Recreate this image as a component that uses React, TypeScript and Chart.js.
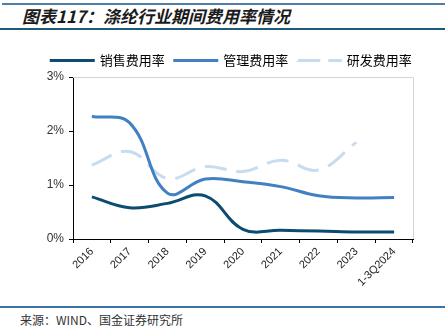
import React, { useEffect, useRef } from "react";
import { Chart, registerables } from "chart.js";

Chart.register(...registerables);

const categories = ["2016", "2017", "2018", "2019", "2020", "2021", "2022", "2023", "1-3Q2024"];
const salesRate = [0.78, 0.58, 0.66, 0.8, 0.18, 0.16, 0.15, 0.13, 0.13];
const mgmtRate = [2.27, 2.15, 0.85, 1.11, 1.06, 0.97, 0.8, 0.76, 0.77];
const rdRate = [1.37, 1.62, 1.12, 1.34, 1.25, 1.46, 1.28, 1.79, null];
const seriesNames = ["销售费用率", "管理费用率", "研发费用率"];
const yTicks = [0, 1, 2, 3];

const colors = ["#0c4c70", "#4181c2", "#c8dcf0"];
const dashes: number[][] = [[], [], [22, 10]];

const frame = {
  id: "frame",
  beforeDatasetsDraw(chart: any) {
    const { ctx, chartArea } = chart;
    ctx.save();
    ctx.strokeStyle = "#d4d4d4";
    ctx.lineWidth = 1;
    ctx.beginPath();
    ctx.moveTo(chartArea.left, chartArea.top + 0.5);
    ctx.lineTo(chartArea.right + 0.5, chartArea.top + 0.5);
    ctx.lineTo(chartArea.right + 0.5, chartArea.bottom);
    ctx.stroke();
    ctx.restore();
  },
};

export default function App() {
  const ref = useRef<HTMLCanvasElement>(null);
  useEffect(() => {
    const seriesData = [salesRate, mgmtRate, rdRate];
    const chart = new Chart(ref.current!, {
      type: "line",
      data: {
        labels: categories,
        datasets: seriesData.map((d, i) => ({
          label: seriesNames[i],
          data: d,
          borderColor: colors[i],
          backgroundColor: colors[i],
          borderWidth: 3,
          borderDash: dashes[i],
          pointRadius: 0,
          tension: 0.4,
          fill: false,
          yAxisID: "y",
        })),
      },
      options: {
        animation: false,
        responsive: false,
        layout: { padding: { top: 4, right: 0, left: 18, bottom: 0 } },
        plugins: {
          tooltip: { enabled: false },
          legend: {
            position: "top",
            labels: {
              boxWidth: 42,
              boxHeight: 0.001,
              padding: 10,
              color: "#555555",
              font: { size: 13, family: "'Noto Sans CJK SC'" },
              generateLabels: () =>
                seriesNames.map((n, i) => ({
                  text: n,
                  fillStyle: "rgba(0,0,0,0)",
                  strokeStyle: colors[i],
                  lineWidth: 3,
                  lineDash: dashes[i],
                  datasetIndex: i,
                  hidden: false,
                })),
            },
          },
        },
        scales: {
          x: {
            type: "category",
            offset: true,
            afterFit: (s: any) => {
              s.height = 66;
            },
            grid: {
              offset: true,
              drawOnChartArea: false,
              drawTicks: true,
              tickLength: 4,
              color: "#000000",
            },
            border: { display: true, color: "#000000", width: 1 },
            ticks: {
              minRotation: 45,
              maxRotation: 45,
              padding: 2,
              color: "#222222",
              font: { size: 11, family: "'Liberation Sans', Arial" },
            },
          },
          y: {
            position: "left",
            min: 0,
            max: 3,
            afterFit: (s: any) => {
              s.width = 55;
            },
            afterBuildTicks: (s: any) => {
              s.ticks = yTicks.map((v) => ({ value: v }));
            },
            grid: {
              drawOnChartArea: false,
              drawTicks: true,
              tickLength: 4,
              color: "#000000",
            },
            border: { display: true, color: "#000000", width: 1 },
            ticks: {
              padding: 5,
              color: "#333333",
              font: { size: 12, family: "'Liberation Sans', Arial" },
              callback: (v: any) => v + "%",
            },
          },
          yRight: {
            position: "right",
            min: 0,
            max: 3,
            afterFit: (s: any) => {
              s.width = 32;
            },
            grid: { display: false, drawOnChartArea: false },
            border: { display: false },
            ticks: { display: false },
          },
        },
      },
      plugins: [frame],
    });
    return () => chart.destroy();
  }, []);

  return (
    <div style={{ position: "fixed", left: 0, top: 0, width: 445, height: 332, background: "#fff", overflow: "hidden" }}>
      <div style={{ position: "absolute", left: 2, right: 0, top: 3, height: 2, background: "#4f7fa6" }} />
      <div
        style={{
          position: "absolute",
          left: 22,
          top: 5,
          fontFamily: "'Noto Sans CJK SC'",
          fontWeight: 700,
          fontStyle: "italic",
          fontSize: 17,
          lineHeight: "22px",
          color: "#1a1a1a",
          whiteSpace: "nowrap",
        }}
      >
        图表117：涤纶行业期间费用率情况
      </div>
      <div style={{ position: "absolute", left: 0, right: 0, top: 28, height: 2, background: "#1e5a7c" }} />
      <canvas ref={ref} width={445} height={265} style={{ position: "absolute", left: 0, top: 40, width: 445, height: 265 }} />
      <div style={{ position: "absolute", left: 0, right: 0, top: 306, height: 1.5, background: "#3a72a4" }} />
      <div
        style={{
          position: "absolute",
          left: 20,
          top: 311,
          fontFamily: "'Noto Sans CJK SC'",
          fontSize: 12,
          lineHeight: "18px",
          color: "#333",
          whiteSpace: "nowrap",
        }}
      >
        来源：WIND、国金证券研究所
      </div>
    </div>
  );
}
